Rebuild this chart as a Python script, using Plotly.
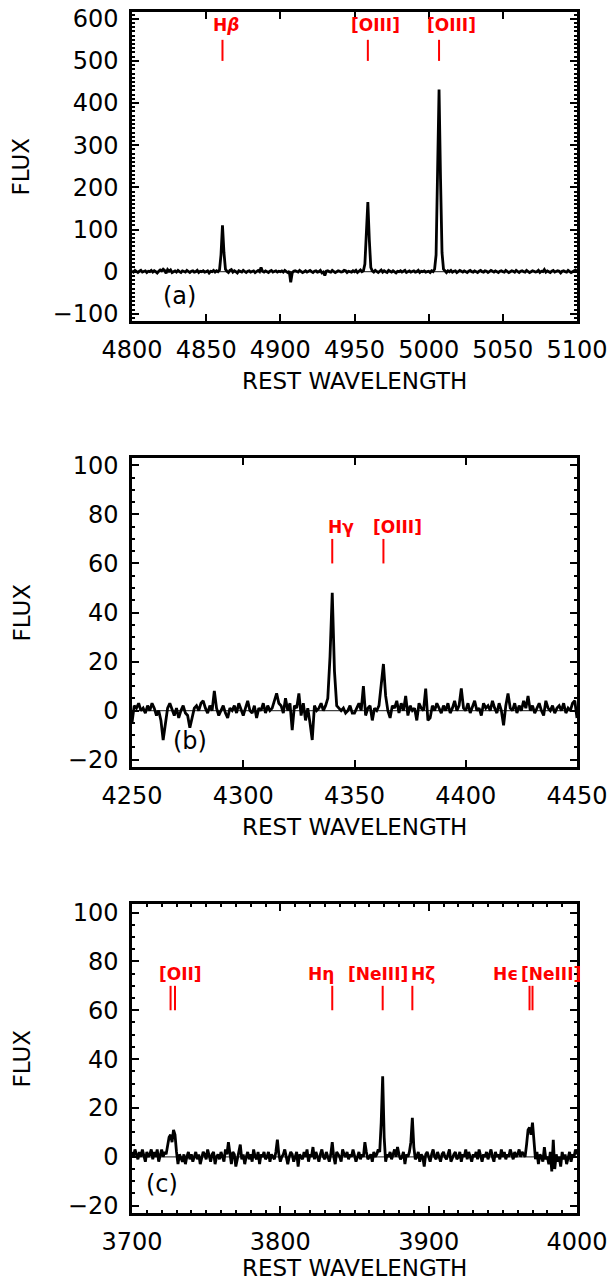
import plotly.graph_objects as go

# ---------------- DATA ----------------
# Panel (a): 4800-5100 A, 1 A step
wave_a = list(range(4800, 5101))
flux_a = [
    2, -1, 3, 0, -2, 1, 3, -1, 0, 2,
    -2, 1, 0, 3, -1, 2, 0, -3, 1, 4,
    2, 6, 3, -4, 5, 1, 4, -2, 0, 2,
    -1, 3, 0, -2, 2, 1, -1, 3, 0, -2,
    1, 2, -1, 0, 3, -2, 1, 0, 2, -1,
    0, 2, -3, 1, 0, 3, -1, 2, 0, 4,
    40, 110, 45, 6, 1, -2, 3, 5, -1, 2,
    0, -3, 2, 1, -1, 3, 0, -2, 1, 2,
    -1, 0, 2, -2, 1, 3, 0, 10, 1, -1,
    2, 0, -2, 1, 3, -1, 0, 2, -1, 1,
    0, 2, -1, 3, 0, -2, 1, -25, -3, 1,
    2, 0, -1, 3, 1, -2, 0, 2, -1, 1,
    3, 0, -2, 1, 2, -1, 0, 3, -3, -1,
    -9, 1, 2, 0, -1, 3, 1, -2, 0, 2,
    1, -1, 0, 3, 2, -2, 1, 0, -1, 2,
    0, 3, -2, 1, 4, 0, 2, 18, 100, 165,
    75, 10, 2, -1, 3, 0, -2, 1, 4, -1,
    2, 0, -2, 3, 1, -1, 2, 0, -3, 1,
    0, 2, -1, 1, 3, -2, 0, 2, -1, 1,
    2, -1, 0, 3, -2, 1, 0, 2, -1, 0,
    1, -2, 2, 0, 6, 40, 200, 432, 220, 45,
    6, 1, -2, 2, 0, 3, -1, 1, 2, -2,
    0, 3, 1, -1, 2, 0, -2, 1, 3, 0,
    -1, 2, 0, -2, 1, 3, 0, -1, 2, 1,
    -2, 0, 3, 1, -1, 2, 0, -2, 1, 2,
    0, -1, 3, 1, -2, 0, 2, 1, -1, 3,
    0, -2, 1, 2, 0, -1, 3, 1, -2, 0,
    2, 1, -1, 0, 3, -2, 1, 0, 5, -1,
    2, 0, -2, 1, 3, -1, 0, 2, 1, -3,
    1, 2, 0, -1, 3, 1, -2, 0, 2, 4,
    1,
]

# Panel (b): 4250-4450 A, 1 A step
wave_b = list(range(4250, 4451))
flux_b = [
    -5, 2, 1, 3, 0, 1, -1, 2, 0, 3,
    1, -2, 0, -4, -12, -6, 1, 3, 0, -2,
    1, -3, 0, 2, -1, -2, -7, -3, 1, 2,
    0, 3, 4, 1, -1, 2, 0, 8, 1, -2,
    0, 2, -1, -3, 1, 0, 2, -1, 3, 0,
    -2, 1, 4, 0, -1, 2, -3, 1, 0, 3,
    -1, 2, 0, 1, 4, 7, 3, 2, -1, 5,
    0, 3, -8, 2, 1, 7, -2, 3, -4, 1,
    -5, -12, 2, 0, 1, 3, 0, 2, 5, 22,
    48, 16, 2, 1, 0, 1, -1, 0, 2, -1,
    -1, 1, 3, 0, 10, -2, 1, 2, -4, 1,
    0, 2, 10, 19, 6, 0, -3, 2, 1, 4,
    -1, 3, 0, 6, -2, 2, 0, 1, -4, 3,
    1, 0, 9, -4, -3, 2, 0, 3, 1, -1,
    2, 0, 3, -1, 1, 4, 0, 2, 9, 1,
    0, 3, -1, 2, 4, 0, 1, -2, 3, 1,
    2, 0, 4, 1, -1, 3, 0, -6, 2, 7,
    1, 0, 3, -1, 2, 0, 4, 1, 6, 0,
    2, -1, 1, 3, 0, -2, 4, 1, 0, 2,
    -1, 1, 2, 0, 3, -1, 1, 0, 3, 4,
    -3,
]

# Panel (c): 3700-4000 A, 1 A step
wave_c = list(range(3700, 4001))
flux_c = [
    2, 0, 3, 1, -1, 2, 0, 3, 1, -2,
    2, 0, 1, 3, -1, 2, 0, 3, -2, 1,
    3, 0, 2, 1, 4, 8, 9, 6, 11, 9,
    2, -3, 1, -1, -2, 1, -3, 0, 2, -1,
    1, -2, 0, 2, -1, 1, -3, 0, 2, 1,
    -1, 3, 0, -2, 1, 2, -3, 0, 1, -1,
    2, 0, -2, 3, 1, 6, 0, -3, 2, 1,
    -4, 0, 2, 5, -1, 1, -3, 0, 2, -1,
    1, -2, 3, 0, -1, 2, -3, 1, 0, 2,
    -1, 0, 2, -2, 1, 0, -1, 2, 7, 1,
    -2, 0, 1, 3, -1, -3, 0, 2, 1, -2,
    0, 2, -4, 1, 0, -1, 2, 0, 3, -2,
    1, 0, 4, -1, 2, 0, -2, 1, 3, 0,
    -1, 2, 0, -2, 1, 6, 0, -3, 2, 1,
    0, -2, 3, 1, 0, 2, -1, 1, 0, 3,
    1, -2, 0, 2, -1, 1, 0, 6, 2, -1,
    0, 1, -2, 2, 0, 1, 3, 2, 14, 33,
    8, -2, 1, 0, 2, -1, 1, 3, 0, 4,
    1, -1, 0, 2, -3, 1, 0, 2, 6, 16,
    4, -1, 0, 2, -2, 1, 0, -4, 1, 2,
    0, -2, 1, 3, 0, -1, 2, 0, -2, 1,
    2, 0, -1, 1, 3, -2, 0, 1, 2, -1,
    0, 2, -2, 1, 0, 3, -1, 2, 0, -2,
    1, 0, 2, -1, 3, 0, -2, 1, 0, 2,
    -1, 1, 3, 0, -2, 2, 0, 1, -1, 3,
    0, 2, -1, 1, 0, 3, 1, -1, 2, 0,
    1, 3, 0, 2, 1, 0, 5, 11, 12, 9,
    14, 5, -1, 2, -3, 1, 0, -2, 4, -1,
    0, -3, 2, -6, 7, -5, 1, -2, 0, -4,
    2, -1, 1, -3, 0, 2, -2, 1, 0, 3,
    1,
]

# Emission line identifications (label, marker wavelengths)
lines_a_labels = ["<b>H<i>β</i></b>", "<b>[OIII]</b>", "<b>[OIII]</b>"]
lines_a_waves = [[4861], [4959], [5007]]
lines_b_labels = ["<b>Hγ</b>", "<b>[OIII]</b>"]
lines_b_waves = [[4340], [4363]]
lines_c_labels = ["<b>[OII]</b>", "<b>Hη</b>", "<b>[NeIII]</b>", "<b>Hζ</b>", "<b>Hϵ</b>", "<b>[NeIII]</b>"]
lines_c_waves = [[3726, 3729], [3835], [3869], [3889], [3970], [3968]]

panel_tags = ["(a)", "(b)", "(c)"]

# ---------------- FIGURE ----------------
W, H = 611, 1283
FONT = "DejaVu Sans"
RED = "#ff0000"

def py(px):
    return 1 - px / H

x_dom = [132 / W, 577 / W]
boxes = [(12, 321), (458, 767), (904, 1213)]
title_y = [381, 827, 1268]

fig = go.Figure()

panels = [
    dict(wave=wave_a, flux=flux_a, xr=[4800, 5100], xd=50, xminor=None,
         yr=[-117, 616], yd=100, yminor=10,
         labels=lines_a_labels, waves=lines_a_waves, shifts=[4, 8, 12],
         tick_y=(500, 550), lab_y=584, tag_xy=(4832, -57)),
    dict(wave=wave_b, flux=flux_b, xr=[4250, 4450], xd=50, xminor=None,
         yr=[-23, 103], yd=20, yminor=5,
         labels=lines_b_labels, waves=lines_b_waves, shifts=[9, 14],
         tick_y=(60, 70), lab_y=75, tag_xy=(4276, -12.5)),
    dict(wave=wave_c, flux=flux_c, xr=[3700, 4000], xd=100, xminor=10,
         yr=[-23, 103.5], yd=20, yminor=5,
         labels=lines_c_labels, waves=lines_c_waves, shifts=[8, -11, -5, 11, -27, 21],
         tick_y=(60, 70), lab_y=75, tag_xy=(3720, -11)),
]

annotations = []
for i, p in enumerate(panels):
    k = "" if i == 0 else str(i + 1)
    xa, ya = "x" + k, "y" + k
    top, bot = boxes[i]

    # continuum (zero) line
    fig.add_trace(go.Scatter(x=[p["xr"][0], p["xr"][1]], y=[0, 0], mode="lines",
                             line=dict(color="#444444", width=1.2),
                             xaxis=xa, yaxis=ya, showlegend=False, hoverinfo="skip"))
    # spectrum
    fig.add_trace(go.Scatter(x=p["wave"], y=p["flux"], mode="lines",
                             line=dict(color="black", width=2.8),
                             xaxis=xa, yaxis=ya, showlegend=False))
    # red identification ticks
    mx, my = [], []
    for ws in p["waves"]:
        for w in ws:
            mx += [w, w, None]
            my += [p["tick_y"][0], p["tick_y"][1], None]
    fig.add_trace(go.Scatter(x=mx, y=my, mode="lines", line=dict(color=RED, width=2),
                             xaxis=xa, yaxis=ya, showlegend=False, hoverinfo="skip"))
    for lab, ws, sh in zip(p["labels"], p["waves"], p["shifts"]):
        annotations.append(dict(x=sum(ws) / len(ws), y=p["lab_y"], xref=xa, yref=ya,
                                text=lab, showarrow=False, xshift=sh,
                                font=dict(family=FONT, size=17, color=RED),
                                xanchor="center", yanchor="middle"))
    # panel tag
    annotations.append(dict(x=p["tag_xy"][0], y=p["tag_xy"][1], xref=xa, yref=ya,
                            text=panel_tags[i], showarrow=False,
                            font=dict(family=FONT, size=24, color="black"),
                            xanchor="center", yanchor="middle"))
    # axis titles
    annotations.append(dict(x=21 / W, y=py((top + bot) / 2), xref="paper", yref="paper",
                            text="FLUX", showarrow=False, textangle=-90,
                            font=dict(family=FONT, size=23, color="black"),
                            xanchor="center", yanchor="middle"))
    annotations.append(dict(x=(x_dom[0] + x_dom[1]) / 2, y=py(title_y[i]), xref="paper", yref="paper",
                            text="REST WAVELENGTH", showarrow=False,
                            font=dict(family=FONT, size=23, color="black"),
                            xanchor="center", yanchor="middle"))

    common = dict(showline=True, linecolor="black", linewidth=2.5, mirror="ticks",
                  ticks="inside", ticklen=7, tickwidth=2, tickcolor="black",
                  showgrid=False, zeroline=False, automargin=False,
                  tickfont=dict(family=FONT, size=24, color="black"))
    xaxis = dict(common, domain=x_dom, range=p["xr"], tick0=p["xr"][0], dtick=p["xd"],
                 anchor=ya, ticklabelstandoff=5)
    if p["xminor"]:
        xaxis["minor"] = dict(ticks="inside", ticklen=3.5, tickwidth=1.5,
                              tickcolor="black", dtick=p["xminor"], showgrid=False)
    yaxis = dict(common, domain=[py(bot), py(top)], range=p["yr"], tick0=0, dtick=p["yd"],
                 anchor=xa, ticklabelstandoff=6,
                 minor=dict(ticks="inside", ticklen=3.5, tickwidth=1.5,
                            tickcolor="black", dtick=p["yminor"], showgrid=False))
    fig.layout["xaxis" + k] = xaxis
    fig.layout["yaxis" + k] = yaxis

fig.update_layout(width=W, height=H, margin=dict(l=0, r=0, t=0, b=0),
                  paper_bgcolor="white", plot_bgcolor="white",
                  annotations=annotations, showlegend=False)

fig.write_html("out.html")
